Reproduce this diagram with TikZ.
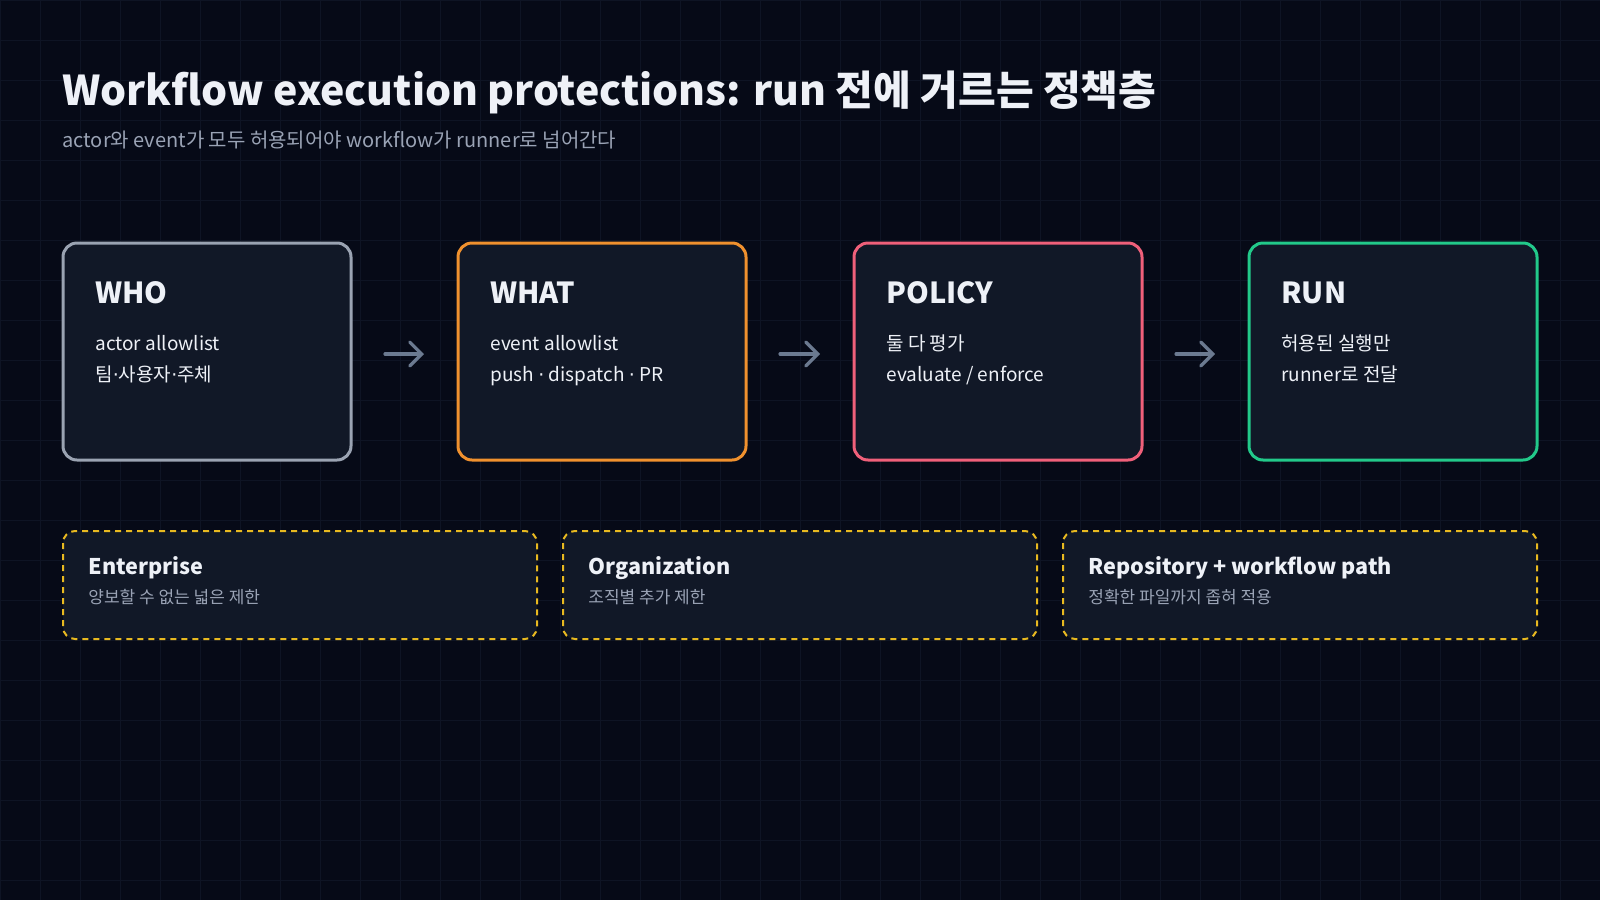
\documentclass[tikz,border=0pt]{standalone}
\usepackage{fontspec}
\setmainfont{Noto Sans CJK KR}
\usetikzlibrary{arrows.meta}
\definecolor{bg}{HTML}{060A17}
\definecolor{gridc}{HTML}{0E1424}
\definecolor{boxf}{HTML}{111827}
\definecolor{txt}{HTML}{EEF1F7}
\definecolor{sub}{HTML}{9AA3B5}
\definecolor{cwho}{HTML}{9AA3B2}
\definecolor{cwhat}{HTML}{F0912E}
\definecolor{cpol}{HTML}{F0607A}
\definecolor{crun}{HTML}{22C98A}
\definecolor{cdash}{HTML}{E8B920}
\definecolor{carr}{HTML}{6B7A90}
\begin{document}
\begin{tikzpicture}[x=0.5pt,y=-0.5pt,
 box/.style={draw=#1,line width=1.5pt,fill=boxf,rounded corners=7pt},
 dbox/.style={draw=cdash,line width=1pt,dash pattern=on 3pt off 2.5pt,fill=boxf,rounded corners=6pt},
 head/.style={anchor=base west,text=txt,font=\fontsize{14.5}{18}\selectfont\bfseries,inner sep=0},
 line/.style={anchor=base west,text=txt,font=\fontsize{9.5}{12}\selectfont,inner sep=0},
 dhead/.style={anchor=base west,text=txt,font=\fontsize{10.8}{13}\selectfont\bfseries,inner sep=0},
 dline/.style={anchor=base west,text=sub,font=\fontsize{8.5}{10}\selectfont,inner sep=0},
 arr/.style={draw=carr,line width=1.6pt,line cap=round,-{Straight Barb[length=6pt,width=12pt,line cap=round]}}]
\fill[bg] (0,0) rectangle (1600,900);
\useasboundingbox (0,0) rectangle (1600,900);
\foreach \x in {0,40,...,1600} \draw[gridc,line width=0.4pt] (\x,0) -- (\x,900);
\foreach \y in {0,40,...,900} \draw[gridc,line width=0.4pt] (0,\y) -- (1600,\y);
\node[anchor=base west,text=txt,font=\fontsize{20.5}{24}\selectfont\bfseries,inner sep=0] (title) at (62,105) {Workflow execution protections: run 전에 거르는 정책층};
\node[anchor=base west,text=sub,font=\fontsize{10}{12}\selectfont,inner sep=0] (subt) at (62,147) {actor와 event가 모두 허용되어야 workflow가 runner로 넘어간다};
\foreach \n/\x/\c in {who/63/cwho,what/458/cwhat,pol/854/cpol,run/1249/crun}{
  \draw[box=\c] (\x,243) rectangle ++(288,217);
  \coordinate (\n) at (\x,243);
}
\node[line] (a1) at (95,350) {actor allowlist};
\node[head] (h1) at (95,303) {WHO};
\node[line] (b1) at (95,381) {팀{\fontspec{DejaVu Sans}·}사용자{\fontspec{DejaVu Sans}·}주체};
\node[head] (h2) at (490,303) {WHAT};
\node[line] (a2) at (490,350) {event allowlist};
\node[line] (b2) at (490,381) {push {\fontspec{DejaVu Sans}·} dispatch {\fontspec{DejaVu Sans}·} PR};
\node[head] (h3) at (886,303) {POLICY};
\node[line] (a3) at (886,350) {둘 다 평가};
\node[line] (b3) at (886,381) {evaluate / enforce};
\node[head] (h4) at (1281,303) {RUN};
\node[line] (a4) at (1281,350) {허용된 실행만};
\node[line] (b4) at (1281,381) {runner로 전달};
\coordinate (s1) at (385,354); \coordinate (e1) at (424,354);
\coordinate (s2) at (780,354); \coordinate (e2) at (820,354);
\coordinate (s3) at (1176,354); \coordinate (e3) at (1215,354);
\draw[arr] (s1) -- (e1);
\draw[arr] (s2) -- (e2);
\draw[arr] (s3) -- (e3);
\draw[dbox] (63,531) rectangle (537,639);
\draw[dbox] (563,531) rectangle (1037,639);
\draw[dbox] (1063,531) rectangle (1537,639);
\node[dhead] (d1) at (88,574) {Enterprise};
\node[dline] (e1t) at (88,603) {양보할 수 없는 넓은 제한};
\node[dhead] (d2) at (588,574) {Organization};
\node[dline] (e2t) at (588,603) {조직별 추가 제한};
\node[dhead] (d3) at (1088,574) {Repository + workflow path};
\node[dline] (e3t) at (1088,603) {정확한 파일까지 좁혀 적용};
\end{tikzpicture}
\end{document}
